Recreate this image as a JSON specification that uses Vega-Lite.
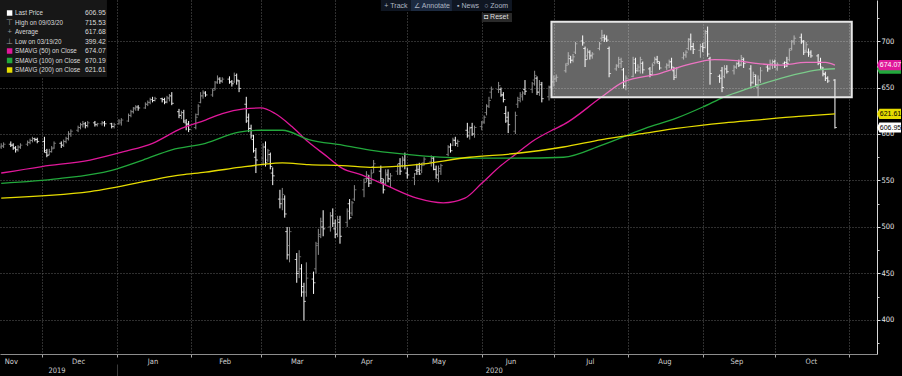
{
"$schema":"https://vega.github.io/schema/vega-lite/v6.json",
"width":877,"height":354,
"autosize":{"type":"none"},
"padding":{"left":0,"top":0,"right":25,"bottom":22},
"background":"#000000",
"config":{"view":{"stroke":null},"axis":{"labelFont":"Liberation Sans Narrow, Arial Narrow, DejaVu Sans Condensed, Liberation Sans, sans-serif"},"text":{"font":"Liberation Sans, Arial, sans-serif"}},
"datasets":{
"bars":[
{"d":"2019-11-14","o":586,"h":590,"l":584,"c":587},
{"d":"2019-11-15","o":587,"h":591,"l":585,"c":589},
{"d":"2019-11-18","o":589,"h":592,"l":586,"c":588},
{"d":"2019-11-19","o":588,"h":590,"l":583,"c":585},
{"d":"2019-11-20","o":585,"h":587,"l":580,"c":583},
{"d":"2019-11-21","o":583,"h":588,"l":581,"c":586},
{"d":"2019-11-22","o":586,"h":590,"l":584,"c":588},
{"d":"2019-11-25","o":589,"h":593,"l":587,"c":591},
{"d":"2019-11-26","o":591,"h":595,"l":589,"c":593},
{"d":"2019-11-27","o":593,"h":597,"l":591,"c":595},
{"d":"2019-11-28","o":595,"h":596,"l":592,"c":594},
{"d":"2019-11-29","o":594,"h":596,"l":590,"c":592},
{"d":"2019-12-02","o":592,"h":597,"l":580,"c":582},
{"d":"2019-12-03","o":580,"h":584,"l":575,"c":577},
{"d":"2019-12-04","o":578,"h":584,"l":577,"c":581},
{"d":"2019-12-05","o":581,"h":587,"l":580,"c":584},
{"d":"2019-12-06","o":585,"h":592,"l":584,"c":590},
{"d":"2019-12-09","o":590,"h":592,"l":585,"c":588},
{"d":"2019-12-10","o":588,"h":594,"l":586,"c":592},
{"d":"2019-12-11","o":592,"h":597,"l":590,"c":595},
{"d":"2019-12-12","o":595,"h":603,"l":593,"c":600},
{"d":"2019-12-13","o":600,"h":605,"l":597,"c":603},
{"d":"2019-12-16","o":604,"h":609,"l":602,"c":607},
{"d":"2019-12-17","o":607,"h":612,"l":605,"c":610},
{"d":"2019-12-18","o":610,"h":614,"l":607,"c":611},
{"d":"2019-12-19","o":611,"h":613,"l":606,"c":609},
{"d":"2019-12-20","o":609,"h":614,"l":607,"c":612},
{"d":"2019-12-23","o":612,"h":614,"l":608,"c":610},
{"d":"2019-12-24","o":610,"h":612,"l":608,"c":611},
{"d":"2019-12-26","o":611,"h":614,"l":609,"c":612},
{"d":"2019-12-27","o":612,"h":614,"l":608,"c":611},
{"d":"2019-12-30","o":611,"h":612,"l":606,"c":608},
{"d":"2019-12-31","o":608,"h":612,"l":606,"c":610},
{"d":"2020-01-02","o":611,"h":616,"l":610,"c":614},
{"d":"2020-01-03","o":612,"h":617,"l":609,"c":615},
{"d":"2020-01-06","o":614,"h":622,"l":613,"c":620},
{"d":"2020-01-07","o":620,"h":626,"l":618,"c":624},
{"d":"2020-01-08","o":624,"h":629,"l":622,"c":627},
{"d":"2020-01-09","o":628,"h":631,"l":625,"c":629},
{"d":"2020-01-10","o":629,"h":631,"l":625,"c":628},
{"d":"2020-01-13","o":628,"h":634,"l":627,"c":632},
{"d":"2020-01-14","o":632,"h":636,"l":630,"c":634},
{"d":"2020-01-15","o":634,"h":639,"l":632,"c":637},
{"d":"2020-01-16","o":637,"h":640,"l":634,"c":636},
{"d":"2020-01-17","o":636,"h":640,"l":635,"c":638},
{"d":"2020-01-20","o":638,"h":639,"l":634,"c":637},
{"d":"2020-01-21","o":637,"h":639,"l":632,"c":634},
{"d":"2020-01-22","o":635,"h":641,"l":633,"c":639},
{"d":"2020-01-23","o":638,"h":643,"l":635,"c":641},
{"d":"2020-01-24","o":641,"h":645,"l":631,"c":633},
{"d":"2020-01-27","o":624,"h":627,"l":617,"c":620},
{"d":"2020-01-28","o":620,"h":625,"l":616,"c":623},
{"d":"2020-01-29","o":623,"h":626,"l":612,"c":614},
{"d":"2020-01-30","o":612,"h":616,"l":604,"c":610},
{"d":"2020-01-31","o":611,"h":614,"l":602,"c":605},
{"d":"2020-02-03","o":607,"h":622,"l":605,"c":618},
{"d":"2020-02-04","o":621,"h":632,"l":620,"c":630},
{"d":"2020-02-05","o":634,"h":645,"l":633,"c":641},
{"d":"2020-02-06","o":641,"h":647,"l":638,"c":645},
{"d":"2020-02-07","o":644,"h":646,"l":640,"c":642},
{"d":"2020-02-10","o":642,"h":649,"l":640,"c":647},
{"d":"2020-02-11","o":649,"h":657,"l":647,"c":655},
{"d":"2020-02-12","o":656,"h":663,"l":654,"c":660},
{"d":"2020-02-13","o":659,"h":661,"l":654,"c":657},
{"d":"2020-02-14","o":657,"h":661,"l":655,"c":659},
{"d":"2020-02-17","o":659,"h":662,"l":654,"c":656},
{"d":"2020-02-18","o":656,"h":658,"l":651,"c":654},
{"d":"2020-02-19","o":656,"h":666,"l":655,"c":663},
{"d":"2020-02-20","o":663,"h":665,"l":653,"c":658},
{"d":"2020-02-21","o":657,"h":658,"l":645,"c":649},
{"d":"2020-02-24","o":632,"h":640,"l":612,"c":614},
{"d":"2020-02-25","o":618,"h":622,"l":602,"c":606},
{"d":"2020-02-26","o":606,"h":610,"l":595,"c":598},
{"d":"2020-02-27","o":594,"h":599,"l":580,"c":582},
{"d":"2020-02-28","o":575,"h":585,"l":558,"c":572},
{"d":"2020-03-02","o":574,"h":590,"l":566,"c":586},
{"d":"2020-03-03","o":586,"h":592,"l":565,"c":569},
{"d":"2020-03-04","o":572,"h":584,"l":570,"c":582},
{"d":"2020-03-05","o":578,"h":580,"l":562,"c":565},
{"d":"2020-03-06","o":558,"h":564,"l":545,"c":555},
{"d":"2020-03-09","o":530,"h":540,"l":520,"c":525},
{"d":"2020-03-10","o":530,"h":542,"l":518,"c":535},
{"d":"2020-03-11","o":530,"h":534,"l":510,"c":514},
{"d":"2020-03-12","o":495,"h":500,"l":465,"c":470},
{"d":"2020-03-13","o":480,"h":500,"l":462,"c":495},
{"d":"2020-03-16","o":465,"h":472,"l":440,"c":450},
{"d":"2020-03-17","o":452,"h":475,"l":445,"c":468},
{"d":"2020-03-18","o":455,"h":460,"l":425,"c":436},
{"d":"2020-03-19","o":430,"h":440,"l":399.42,"c":420},
{"d":"2020-03-20","o":430,"h":462,"l":425,"c":445},
{"d":"2020-03-23","o":444,"h":452,"l":428,"c":440},
{"d":"2020-03-24","o":455,"h":484,"l":450,"c":480},
{"d":"2020-03-25","o":482,"h":498,"l":470,"c":490},
{"d":"2020-03-26","o":492,"h":510,"l":488,"c":506},
{"d":"2020-03-27","o":500,"h":518,"l":490,"c":498},
{"d":"2020-03-30","o":500,"h":516,"l":495,"c":512},
{"d":"2020-03-31","o":512,"h":520,"l":500,"c":504},
{"d":"2020-04-01","o":498,"h":508,"l":488,"c":492},
{"d":"2020-04-02","o":493,"h":512,"l":489,"c":508},
{"d":"2020-04-03","o":505,"h":512,"l":482,"c":490},
{"d":"2020-04-06","o":505,"h":520,"l":500,"c":517},
{"d":"2020-04-07","o":525,"h":530,"l":508,"c":510},
{"d":"2020-04-08","o":515,"h":528,"l":512,"c":526},
{"d":"2020-04-09","o":530,"h":545,"l":528,"c":540},
{"d":"2020-04-13","o":540,"h":552,"l":532,"c":548},
{"d":"2020-04-14","o":552,"h":560,"l":548,"c":556},
{"d":"2020-04-15","o":552,"h":556,"l":543,"c":547},
{"d":"2020-04-16","o":550,"h":562,"l":546,"c":558},
{"d":"2020-04-17","o":565,"h":572,"l":558,"c":568},
{"d":"2020-04-20","o":560,"h":566,"l":548,"c":552},
{"d":"2020-04-21","o":548,"h":552,"l":536,"c":540},
{"d":"2020-04-22","o":547,"h":562,"l":545,"c":558},
{"d":"2020-04-23","o":556,"h":562,"l":548,"c":552},
{"d":"2020-04-24","o":551,"h":558,"l":542,"c":555},
{"d":"2020-04-27","o":560,"h":568,"l":556,"c":565},
{"d":"2020-04-28","o":568,"h":574,"l":556,"c":560},
{"d":"2020-04-29","o":566,"h":576,"l":564,"c":574},
{"d":"2020-04-30","o":572,"h":580,"l":562,"c":566},
{"d":"2020-05-01","o":558,"h":564,"l":552,"c":556},
{"d":"2020-05-04","o":553,"h":558,"l":545,"c":557},
{"d":"2020-05-05","o":561,"h":568,"l":556,"c":560},
{"d":"2020-05-06","o":562,"h":569,"l":556,"c":557},
{"d":"2020-05-07","o":561,"h":569,"l":558,"c":566},
{"d":"2020-05-08","o":569,"h":575,"l":566,"c":573},
{"d":"2020-05-11","o":570,"h":577,"l":565,"c":574},
{"d":"2020-05-12","o":574,"h":576,"l":561,"c":562},
{"d":"2020-05-13","o":562,"h":566,"l":552,"c":556},
{"d":"2020-05-14","o":552,"h":566,"l":548,"c":563},
{"d":"2020-05-15","o":560,"h":568,"l":556,"c":566},
{"d":"2020-05-18","o":578,"h":588,"l":576,"c":586},
{"d":"2020-05-19","o":586,"h":590,"l":580,"c":582},
{"d":"2020-05-20","o":588,"h":596,"l":587,"c":594},
{"d":"2020-05-21","o":593,"h":597,"l":587,"c":590},
{"d":"2020-05-22","o":590,"h":594,"l":586,"c":592},
{"d":"2020-05-26","o":604,"h":612,"l":596,"c":598},
{"d":"2020-05-27","o":602,"h":608,"l":594,"c":606},
{"d":"2020-05-28","o":607,"h":612,"l":598,"c":600},
{"d":"2020-05-29","o":600,"h":609,"l":596,"c":607},
{"d":"2020-06-01","o":608,"h":614,"l":604,"c":612},
{"d":"2020-06-02","o":613,"h":620,"l":611,"c":618},
{"d":"2020-06-03","o":623,"h":632,"l":620,"c":630},
{"d":"2020-06-04","o":630,"h":640,"l":628,"c":636},
{"d":"2020-06-05","o":645,"h":651,"l":638,"c":648},
{"d":"2020-06-08","o":648,"h":656,"l":644,"c":652},
{"d":"2020-06-09","o":648,"h":650,"l":640,"c":642},
{"d":"2020-06-10","o":642,"h":645,"l":634,"c":637},
{"d":"2020-06-11","o":622,"h":630,"l":612,"c":614},
{"d":"2020-06-12","o":618,"h":624,"l":601,"c":610},
{"d":"2020-06-15","o":603,"h":624,"l":600,"c":620},
{"d":"2020-06-16","o":632,"h":640,"l":628,"c":636},
{"d":"2020-06-17","o":638,"h":645,"l":634,"c":642},
{"d":"2020-06-18","o":640,"h":646,"l":636,"c":644},
{"d":"2020-06-19","o":648,"h":658,"l":642,"c":646},
{"d":"2020-06-22","o":648,"h":656,"l":644,"c":654},
{"d":"2020-06-23","o":658,"h":668,"l":652,"c":663},
{"d":"2020-06-24","o":660,"h":662,"l":642,"c":645},
{"d":"2020-06-25","o":645,"h":658,"l":641,"c":655},
{"d":"2020-06-26","o":653,"h":656,"l":634,"c":638},
{"d":"2020-06-29","o":640,"h":652,"l":636,"c":650},
{"d":"2020-06-30","o":651,"h":658,"l":647,"c":656},
{"d":"2020-07-01","o":656,"h":663,"l":651,"c":659},
{"d":"2020-07-02","o":660,"h":664,"l":656,"c":661},
{"d":"2020-07-06","o":668,"h":676,"l":666,"c":674},
{"d":"2020-07-07","o":676,"h":688,"l":674,"c":684},
{"d":"2020-07-08","o":681,"h":684,"l":676,"c":679},
{"d":"2020-07-09","o":680,"h":686,"l":677,"c":683},
{"d":"2020-07-10","o":688,"h":699,"l":686,"c":697},
{"d":"2020-07-13","o":700,"h":706,"l":695,"c":698},
{"d":"2020-07-14","o":692,"h":694,"l":672,"c":680},
{"d":"2020-07-15","o":684,"h":692,"l":680,"c":689},
{"d":"2020-07-16","o":688,"h":690,"l":680,"c":684},
{"d":"2020-07-17","o":685,"h":688,"l":681,"c":686},
{"d":"2020-07-20","o":692,"h":699,"l":690,"c":697},
{"d":"2020-07-21","o":703,"h":712,"l":700,"c":706},
{"d":"2020-07-22","o":704,"h":707,"l":699,"c":702},
{"d":"2020-07-23","o":703,"h":706,"l":699,"c":701},
{"d":"2020-07-24","o":692,"h":694,"l":661,"c":665},
{"d":"2020-07-27","o":670,"h":675,"l":668,"c":673},
{"d":"2020-07-28","o":674,"h":683,"l":671,"c":680},
{"d":"2020-07-29","o":676,"h":682,"l":671,"c":678},
{"d":"2020-07-30","o":669,"h":671,"l":649,"c":652},
{"d":"2020-07-31","o":656,"h":663,"l":647,"c":660},
{"d":"2020-08-03","o":662,"h":683,"l":661,"c":680},
{"d":"2020-08-04","o":676,"h":682,"l":665,"c":668},
{"d":"2020-08-05","o":670,"h":675,"l":667,"c":672},
{"d":"2020-08-06","o":668,"h":683,"l":665,"c":680},
{"d":"2020-08-07","o":676,"h":678,"l":665,"c":669},
{"d":"2020-08-10","o":670,"h":672,"l":661,"c":664},
{"d":"2020-08-11","o":667,"h":676,"l":663,"c":674},
{"d":"2020-08-12","o":677,"h":683,"l":675,"c":681},
{"d":"2020-08-13","o":680,"h":684,"l":676,"c":678},
{"d":"2020-08-14","o":676,"h":678,"l":669,"c":671},
{"d":"2020-08-17","o":672,"h":676,"l":669,"c":674},
{"d":"2020-08-18","o":674,"h":680,"l":671,"c":677},
{"d":"2020-08-19","o":678,"h":682,"l":670,"c":672},
{"d":"2020-08-20","o":668,"h":672,"l":658,"c":661},
{"d":"2020-08-21","o":663,"h":672,"l":660,"c":670},
{"d":"2020-08-24","o":682,"h":688,"l":680,"c":685},
{"d":"2020-08-25","o":685,"h":690,"l":682,"c":688},
{"d":"2020-08-26","o":692,"h":703,"l":690,"c":700},
{"d":"2020-08-27","o":702,"h":708,"l":690,"c":694},
{"d":"2020-08-28","o":694,"h":698,"l":686,"c":691},
{"d":"2020-08-31","o":690,"h":697,"l":682,"c":694},
{"d":"2020-09-01","o":694,"h":698,"l":688,"c":693},
{"d":"2020-09-02","o":698,"h":712,"l":692,"c":708},
{"d":"2020-09-03","o":710,"h":715.53,"l":683,"c":686},
{"d":"2020-09-04","o":681,"h":683,"l":653,"c":665},
{"d":"2020-09-08","o":662,"h":664,"l":655,"c":660},
{"d":"2020-09-09","o":668,"h":672,"l":645,"c":650},
{"d":"2020-09-10","o":662,"h":674,"l":660,"c":670},
{"d":"2020-09-11","o":670,"h":674,"l":665,"c":667},
{"d":"2020-09-14","o":668,"h":674,"l":664,"c":672},
{"d":"2020-09-15","o":672,"h":677,"l":670,"c":675},
{"d":"2020-09-16","o":676,"h":680,"l":672,"c":674},
{"d":"2020-09-17","o":675,"h":685,"l":673,"c":682},
{"d":"2020-09-18","o":680,"h":682,"l":671,"c":676},
{"d":"2020-09-21","o":670,"h":674,"l":651,"c":655},
{"d":"2020-09-22","o":656,"h":667,"l":654,"c":664},
{"d":"2020-09-23","o":662,"h":664,"l":651,"c":653},
{"d":"2020-09-24","o":650,"h":663,"l":640,"c":658},
{"d":"2020-09-25","o":658,"h":672,"l":655,"c":668},
{"d":"2020-09-28","o":672,"h":675,"l":667,"c":670},
{"d":"2020-09-29","o":671,"h":680,"l":669,"c":676},
{"d":"2020-09-30","o":674,"h":680,"l":670,"c":677},
{"d":"2020-10-01","o":678,"h":680,"l":671,"c":674},
{"d":"2020-10-02","o":670,"h":677,"l":668,"c":675},
{"d":"2020-10-05","o":676,"h":678,"l":671,"c":673},
{"d":"2020-10-06","o":677,"h":683,"l":672,"c":676},
{"d":"2020-10-07","o":680,"h":692,"l":678,"c":690},
{"d":"2020-10-08","o":692,"h":701,"l":690,"c":699},
{"d":"2020-10-09","o":700,"h":706,"l":696,"c":703},
{"d":"2020-10-12","o":704,"h":708,"l":697,"c":700},
{"d":"2020-10-13","o":699,"h":701,"l":685,"c":688},
{"d":"2020-10-14","o":690,"h":699,"l":688,"c":696},
{"d":"2020-10-15","o":688,"h":692,"l":683,"c":686},
{"d":"2020-10-16","o":688,"h":690,"l":682,"c":684},
{"d":"2020-10-19","o":684,"h":686,"l":674,"c":676},
{"d":"2020-10-20","o":678,"h":682,"l":670,"c":672},
{"d":"2020-10-21","o":670,"h":672,"l":662,"c":665},
{"d":"2020-10-22","o":664,"h":667,"l":657,"c":660},
{"d":"2020-10-23","o":660,"h":662,"l":655,"c":657},
{"d":"2020-10-26","o":658,"h":659,"l":605.8,"c":606.95}
],
"ma":[
{"s":"SMAVG (50)  on Close","d":"2019-11-14","v":558},
{"s":"SMAVG (50)  on Close","d":"2019-12-01","v":565},
{"s":"SMAVG (50)  on Close","d":"2019-12-21","v":572},
{"s":"SMAVG (50)  on Close","d":"2020-01-04","v":581},
{"s":"SMAVG (50)  on Close","d":"2020-01-16","v":590},
{"s":"SMAVG (50)  on Close","d":"2020-01-28","v":606},
{"s":"SMAVG (50)  on Close","d":"2020-02-07","v":615},
{"s":"SMAVG (50)  on Close","d":"2020-02-14","v":622},
{"s":"SMAVG (50)  on Close","d":"2020-02-23","v":627},
{"s":"SMAVG (50)  on Close","d":"2020-03-01","v":628},
{"s":"SMAVG (50)  on Close","d":"2020-03-07","v":622},
{"s":"SMAVG (50)  on Close","d":"2020-03-14","v":608},
{"s":"SMAVG (50)  on Close","d":"2020-03-21","v":591},
{"s":"SMAVG (50)  on Close","d":"2020-03-28","v":577},
{"s":"SMAVG (50)  on Close","d":"2020-04-04","v":563},
{"s":"SMAVG (50)  on Close","d":"2020-04-12","v":556},
{"s":"SMAVG (50)  on Close","d":"2020-04-22","v":545},
{"s":"SMAVG (50)  on Close","d":"2020-05-05","v":531},
{"s":"SMAVG (50)  on Close","d":"2020-05-16","v":526},
{"s":"SMAVG (50)  on Close","d":"2020-05-25","v":531},
{"s":"SMAVG (50)  on Close","d":"2020-06-01","v":547},
{"s":"SMAVG (50)  on Close","d":"2020-06-09","v":566},
{"s":"SMAVG (50)  on Close","d":"2020-06-15","v":578},
{"s":"SMAVG (50)  on Close","d":"2020-06-22","v":592},
{"s":"SMAVG (50)  on Close","d":"2020-07-01","v":605},
{"s":"SMAVG (50)  on Close","d":"2020-07-05","v":610},
{"s":"SMAVG (50)  on Close","d":"2020-07-21","v":640},
{"s":"SMAVG (50)  on Close","d":"2020-07-30","v":656},
{"s":"SMAVG (50)  on Close","d":"2020-08-14","v":665},
{"s":"SMAVG (50)  on Close","d":"2020-08-25","v":674},
{"s":"SMAVG (50)  on Close","d":"2020-09-06","v":680},
{"s":"SMAVG (50)  on Close","d":"2020-09-15","v":679},
{"s":"SMAVG (50)  on Close","d":"2020-09-23","v":676},
{"s":"SMAVG (50)  on Close","d":"2020-10-03","v":674},
{"s":"SMAVG (50)  on Close","d":"2020-10-14","v":677},
{"s":"SMAVG (50)  on Close","d":"2020-10-22","v":677},
{"s":"SMAVG (50)  on Close","d":"2020-10-26","v":674.07},
{"s":"SMAVG (100)  on Close","d":"2019-11-14","v":547},
{"s":"SMAVG (100)  on Close","d":"2019-12-08","v":552},
{"s":"SMAVG (100)  on Close","d":"2019-12-30","v":561},
{"s":"SMAVG (100)  on Close","d":"2020-01-12","v":572},
{"s":"SMAVG (100)  on Close","d":"2020-01-24","v":583},
{"s":"SMAVG (100)  on Close","d":"2020-02-07","v":590},
{"s":"SMAVG (100)  on Close","d":"2020-02-21","v":602},
{"s":"SMAVG (100)  on Close","d":"2020-03-01","v":604},
{"s":"SMAVG (100)  on Close","d":"2020-03-10","v":604},
{"s":"SMAVG (100)  on Close","d":"2020-03-21","v":594},
{"s":"SMAVG (100)  on Close","d":"2020-04-04","v":588},
{"s":"SMAVG (100)  on Close","d":"2020-04-17","v":582},
{"s":"SMAVG (100)  on Close","d":"2020-05-05","v":577},
{"s":"SMAVG (100)  on Close","d":"2020-05-27","v":574},
{"s":"SMAVG (100)  on Close","d":"2020-06-15","v":574},
{"s":"SMAVG (100)  on Close","d":"2020-07-05","v":575},
{"s":"SMAVG (100)  on Close","d":"2020-07-21","v":588},
{"s":"SMAVG (100)  on Close","d":"2020-08-08","v":606},
{"s":"SMAVG (100)  on Close","d":"2020-08-21","v":617},
{"s":"SMAVG (100)  on Close","d":"2020-09-01","v":629},
{"s":"SMAVG (100)  on Close","d":"2020-09-10","v":640},
{"s":"SMAVG (100)  on Close","d":"2020-09-20","v":649},
{"s":"SMAVG (100)  on Close","d":"2020-10-01","v":658},
{"s":"SMAVG (100)  on Close","d":"2020-10-11","v":665},
{"s":"SMAVG (100)  on Close","d":"2020-10-19","v":669},
{"s":"SMAVG (100)  on Close","d":"2020-10-26","v":670.19},
{"s":"SMAVG (200)  on Close","d":"2019-11-14","v":531},
{"s":"SMAVG (200)  on Close","d":"2019-12-21","v":538},
{"s":"SMAVG (200)  on Close","d":"2020-01-28","v":556},
{"s":"SMAVG (200)  on Close","d":"2020-02-07","v":559},
{"s":"SMAVG (200)  on Close","d":"2020-02-21","v":564},
{"s":"SMAVG (200)  on Close","d":"2020-03-01","v":567},
{"s":"SMAVG (200)  on Close","d":"2020-03-10","v":569},
{"s":"SMAVG (200)  on Close","d":"2020-03-21","v":567},
{"s":"SMAVG (200)  on Close","d":"2020-04-04","v":566},
{"s":"SMAVG (200)  on Close","d":"2020-04-17","v":564},
{"s":"SMAVG (200)  on Close","d":"2020-05-05","v":567},
{"s":"SMAVG (200)  on Close","d":"2020-05-27","v":575},
{"s":"SMAVG (200)  on Close","d":"2020-06-15","v":579},
{"s":"SMAVG (200)  on Close","d":"2020-07-05","v":586},
{"s":"SMAVG (200)  on Close","d":"2020-07-21","v":594},
{"s":"SMAVG (200)  on Close","d":"2020-08-08","v":601},
{"s":"SMAVG (200)  on Close","d":"2020-08-21","v":606},
{"s":"SMAVG (200)  on Close","d":"2020-09-10","v":612},
{"s":"SMAVG (200)  on Close","d":"2020-09-23","v":615},
{"s":"SMAVG (200)  on Close","d":"2020-10-11","v":619},
{"s":"SMAVG (200)  on Close","d":"2020-10-26","v":621.61}
],
"legend":[
{"name":"Last Price","v":606.95},
{"name":"High on 09/03/20","v":715.53},
{"name":"Average","v":617.68},
{"name":"Low on 03/19/20","v":399.42},
{"name":"SMAVG (50)  on Close","v":674.07},
{"name":"SMAVG (100)  on Close","v":670.19},
{"name":"SMAVG (200)  on Close","v":621.61}
]
},
"layer":[
{
"layer":[
{"data":{"name":"bars"},"mark":{"type":"rule","strokeWidth":1},
 "encoding":{
  "x":{"field":"d","type":"temporal","scale":{"type":"utc","nice":false,"domain":[{"year":2019,"month":11,"date":13,"hours":12,"utc":true},{"year":2020,"month":11,"date":12,"hours":12,"utc":true}]},
   "axis":{"orient":"bottom","title":null,"values":[{"year":2019,"month":12,"date":1,"utc":true},{"year":2020,"month":1,"date":1,"utc":true},{"year":2020,"month":2,"date":1,"utc":true},{"year":2020,"month":3,"date":1,"utc":true},{"year":2020,"month":4,"date":1,"utc":true},{"year":2020,"month":5,"date":1,"utc":true},{"year":2020,"month":6,"date":1,"utc":true},{"year":2020,"month":7,"date":1,"utc":true},{"year":2020,"month":8,"date":1,"utc":true},{"year":2020,"month":9,"date":1,"utc":true},{"year":2020,"month":10,"date":1,"utc":true},{"year":2020,"month":11,"date":1,"utc":true}],
    "grid":true,"gridColor":"#5e5e5e","gridDash":[1,2],"gridOpacity":1,"ticks":true,"tickSize":3,"tickColor":"#a8a8a8","domain":true,"domainColor":"#8c8c8c","labels":false}},
  "y":{"field":"l","type":"quantitative","scale":{"domain":[363.4,744.1],"nice":false,"zero":false},
   "axis":{"orient":"right","title":null,"values":[400,450,500,550,600,650,700],"grid":true,"gridColor":"#5e5e5e","gridDash":[1,2],"gridOpacity":1,"ticks":true,"tickSize":3,"tickColor":"#e0e0e0","domain":true,"domainColor":"#d8d8d8","labelColor":"#e8e8e8","labelFontSize":7.5,"labelPadding":1,"labelOverlap":false,"labelFlush":false}},
  "y2":{"field":"h"},
  "color":{"condition":{"test":"datum.c < datum.o","value":"#ffffff"},"value":"#8c8c8c"}}},
{"data":{"name":"bars"},"mark":{"type":"tick","orient":"horizontal","size":2,"thickness":1,"xOffset":-1},
 "encoding":{
  "x":{"field":"d","type":"temporal","scale":{"type":"utc","nice":false,"domain":[{"year":2019,"month":11,"date":13,"hours":12,"utc":true},{"year":2020,"month":11,"date":12,"hours":12,"utc":true}]},
   "axis":{"orient":"bottom","title":null,"values":[{"year":2019,"month":11,"date":18,"utc":true},{"year":2019,"month":12,"date":16,"utc":true},{"year":2020,"month":1,"date":16,"utc":true},{"year":2020,"month":2,"date":15,"utc":true},{"year":2020,"month":3,"date":16,"utc":true},{"year":2020,"month":4,"date":14,"utc":true},{"year":2020,"month":5,"date":14,"utc":true},{"year":2020,"month":6,"date":13,"utc":true},{"year":2020,"month":7,"date":16,"utc":true},{"year":2020,"month":8,"date":16,"utc":true},{"year":2020,"month":9,"date":15,"utc":true},{"year":2020,"month":10,"date":16,"utc":true}],
    "format":"%b","ticks":false,"domain":false,"grid":false,"labelColor":"#d0d0d0","labelFontSize":7.5,"labelPadding":3,"labelFlush":false,"labelOverlap":false}},
  "y":{"field":"o","type":"quantitative","scale":{"domain":[363.4,744.1],"nice":false,"zero":false},
   "axis":{"orient":"right","title":null,"values":[375,425,475,525,575,625,675,725],"ticks":true,"tickSize":2,"tickColor":"#cccccc","labels":false,"domain":false,"grid":false}},
  "color":{"condition":{"test":"datum.c < datum.o","value":"#ffffff"},"value":"#8c8c8c"}}},
{"data":{"name":"bars"},"mark":{"type":"tick","orient":"horizontal","size":2,"thickness":1,"xOffset":1},
 "encoding":{
  "x":{"field":"d","type":"temporal","scale":{"type":"utc","nice":false,"domain":[{"year":2019,"month":11,"date":13,"hours":12,"utc":true},{"year":2020,"month":11,"date":12,"hours":12,"utc":true}]},
   "axis":{"orient":"bottom","title":null,"values":[{"year":2019,"month":12,"date":7,"utc":true},{"year":2020,"month":6,"date":6,"utc":true}],"format":"%Y","ticks":false,"domain":false,"grid":false,"labelColor":"#d0d0d0","labelFontSize":7.5,"labelPadding":12,"labelFlush":false,"labelOverlap":false}},
  "y":{"field":"c","type":"quantitative","scale":{"domain":[363.4,744.1],"nice":false,"zero":false},"axis":null},
  "color":{"condition":{"test":"datum.c < datum.o","value":"#ffffff"},"value":"#8c8c8c"}}},
{"data":{"name":"ma"},"mark":{"type":"line","strokeWidth":1.3,"interpolate":"monotone"},
 "encoding":{
  "x":{"field":"d","type":"temporal","scale":{"type":"utc","nice":false,"domain":[{"year":2019,"month":11,"date":13,"hours":12,"utc":true},{"year":2020,"month":11,"date":12,"hours":12,"utc":true}]},
   "axis":{"orient":"bottom","title":null,"values":[{"year":2020,"month":1,"date":1,"utc":true}],"ticks":true,"tickSize":12,"tickColor":"#3a3a3a","labels":false,"domain":false,"grid":false,"offset":10}},
  "y":{"field":"v","type":"quantitative","scale":{"domain":[363.4,744.1],"nice":false,"zero":false},"axis":null},
  "color":{"field":"s","type":"nominal","legend":null,"scale":{"domain":["Last Price","High on 09/03/20","Average","Low on 03/19/20","SMAVG (50)  on Close","SMAVG (100)  on Close","SMAVG (200)  on Close"],"range":["#ffffff","#aaaaaa","#aaaaaa","#aaaaaa","#e0189a","#22a83c","#e6dc00"]}}}},
{"data":{"values":[{}]},"mark":{"type":"rect","fill":"#ffffff","fillOpacity":0.4,"stroke":"#e6e6e6","strokeWidth":2},
 "encoding":{
  "x":{"datum":{"year":2020,"month":6,"date":30,"utc":true},"type":"temporal","axis":null},
  "x2":{"datum":{"year":2020,"month":11,"date":2,"utc":true}},
  "y":{"datum":720.8,"type":"quantitative","axis":null},
  "y2":{"datum":639.5}}},
{"data":{"values":[{}]},"mark":{"type":"rect","fill":"#171717"},
 "encoding":{
  "x":{"datum":{"year":2019,"month":11,"date":13,"hours":12,"utc":true},"type":"temporal","axis":null},
  "x2":{"datum":{"year":2019,"month":12,"date":28,"utc":true}},
  "y":{"datum":744.1,"type":"quantitative","axis":null},
  "y2":{"datum":661.3}}},
{"data":{"values":[{}]},"mark":{"type":"rect","fill":"#0f1622"},
 "encoding":{
  "x":{"datum":{"year":2020,"month":4,"date":20,"utc":true},"type":"temporal","axis":null},
  "x2":{"datum":{"year":2020,"month":6,"date":13,"hours":14,"utc":true}},
  "y":{"datum":744.1,"type":"quantitative","axis":null},
  "y2":{"datum":732.3}}},
{"data":{"values":[{}]},"mark":{"type":"rect","fill":"#1c2a40"},
 "encoding":{
  "x":{"datum":{"year":2020,"month":5,"date":2,"hours":13,"utc":true},"type":"temporal","axis":null},
  "x2":{"datum":{"year":2020,"month":5,"date":19,"hours":14,"utc":true}},
  "y":{"datum":744.1,"type":"quantitative","axis":null},
  "y2":{"datum":732.3}}},
{"data":{"values":[{}]},"mark":{"type":"rect","fill":"#2a2a2a"},
 "encoding":{
  "x":{"datum":{"year":2020,"month":6,"date":1,"utc":true},"type":"temporal","axis":null},
  "x2":{"datum":{"year":2020,"month":6,"date":13,"hours":14,"utc":true}},
  "y":{"datum":730.1,"type":"quantitative","axis":null},
  "y2":{"datum":720.4}}},
{"data":{"values":[{}]},"mark":{"type":"text","fontSize":7,"color":"#aeb6c2","align":"center","baseline":"middle"},
 "encoding":{"x":{"datum":{"year":2020,"month":4,"date":26,"hours":7,"utc":true},"type":"temporal","axis":null},"y":{"datum":738,"type":"quantitative","axis":null},"text":{"value":"+ Track"}}},
{"data":{"values":[{}]},"mark":{"type":"text","fontSize":7,"color":"#aeb6c2","align":"center","baseline":"middle"},
 "encoding":{"x":{"datum":{"year":2020,"month":5,"date":11,"hours":7,"utc":true},"type":"temporal","axis":null},"y":{"datum":738,"type":"quantitative","axis":null},"text":{"value":"∠ Annotate"}}},
{"data":{"values":[{}]},"mark":{"type":"text","fontSize":7,"color":"#aeb6c2","align":"center","baseline":"middle"},
 "encoding":{"x":{"datum":{"year":2020,"month":5,"date":26,"hours":7,"utc":true},"type":"temporal","axis":null},"y":{"datum":738,"type":"quantitative","axis":null},"text":{"value":"▪ News"}}},
{"data":{"values":[{}]},"mark":{"type":"text","fontSize":7,"color":"#aeb6c2","align":"center","baseline":"middle"},
 "encoding":{"x":{"datum":{"year":2020,"month":6,"date":7,"utc":true},"type":"temporal","axis":null},"y":{"datum":738,"type":"quantitative","axis":null},"text":{"value":"○ Zoom"}}},
{"data":{"values":[{}]},"mark":{"type":"text","fontSize":7,"color":"#dddddd","align":"center","baseline":"middle"},
 "encoding":{"x":{"datum":{"year":2020,"month":6,"date":7,"utc":true},"type":"temporal","axis":null},"y":{"datum":725.3,"type":"quantitative","axis":null},"text":{"value":"◘ Reset"}}},
{"data":{"name":"legend"},"transform":[{"filter":{"field":"name","oneOf":["Last Price","SMAVG (50)  on Close","SMAVG (100)  on Close","SMAVG (200)  on Close"]}}],
 "mark":{"type":"point","shape":"M-1,0L-0.8,-0.42L1,-0.42L1,0.42L-0.8,0.42Z","size":576,"filled":true,"opacity":1},
 "encoding":{
  "x":{"datum":{"year":2020,"month":11,"date":17,"hours":12,"utc":true},"type":"temporal","axis":null},
  "y":{"field":"v","type":"quantitative","axis":null},
  "order":{"field":"v","type":"quantitative"},
  "color":{"field":"name","type":"nominal","legend":null}}},
{"data":{"name":"legend"},"transform":[{"filter":{"field":"name","oneOf":["Last Price","SMAVG (50)  on Close","SMAVG (200)  on Close"]}}],
 "mark":{"type":"text","fontSize":7,"align":"center","baseline":"middle","dx":1.5},
 "encoding":{
  "x":{"datum":{"year":2020,"month":11,"date":17,"hours":12,"utc":true},"type":"temporal","axis":null},
  "y":{"field":"v","type":"quantitative","axis":null},
  "text":{"field":"v","type":"quantitative","format":".2f"},
  "color":{"condition":{"test":"datum.v > 650","value":"#ffffff"},"value":"#000000"}}}
],
"resolve":{"axis":{"x":"independent","y":"independent"}}
},
{
"data":{"name":"legend"},
"encoding":{"y":{"field":"name","type":"nominal","axis":null,"scale":{"type":"point","domain":["Last Price","High on 09/03/20","Average","Low on 03/19/20","SMAVG (50)  on Close","SMAVG (100)  on Close","SMAVG (200)  on Close"],"range":[13,70],"padding":0}}},
"layer":[
{"transform":[{"filter":{"field":"name","oneOf":["Last Price","SMAVG (50)  on Close","SMAVG (100)  on Close","SMAVG (200)  on Close"]}}],
 "mark":{"type":"point","shape":"square","filled":true,"size":30,"opacity":1},
 "encoding":{"x":{"datum":{"year":2019,"month":11,"date":17,"hours":12,"utc":true},"type":"temporal","axis":null},"color":{"field":"name","type":"nominal","legend":null}}},
{"transform":[{"filter":{"field":"name","oneOf":["High on 09/03/20","Average","Low on 03/19/20"]}}],
 "mark":{"type":"text","fontSize":7.5,"color":"#9a9a9a","align":"center","baseline":"middle"},
 "encoding":{"x":{"datum":{"year":2019,"month":11,"date":17,"hours":12,"utc":true},"type":"temporal","axis":null},
  "text":{"condition":[{"test":"datum.name === 'Average'","value":"+"},{"test":"datum.name === 'High on 09/03/20'","value":"⊤"}],"value":"⊥"}}},
{"mark":{"type":"text","fontSize":6.3,"color":"#dadada","align":"left","baseline":"middle"},
 "encoding":{"x":{"datum":{"year":2019,"month":11,"date":19,"hours":18,"utc":true},"type":"temporal","axis":null},"text":{"field":"name","type":"nominal"}}},
{"mark":{"type":"text","fontSize":6.8,"color":"#dadada","align":"right","baseline":"middle"},
 "encoding":{"x":{"datum":{"year":2019,"month":12,"date":27,"hours":12,"utc":true},"type":"temporal","axis":null},"text":{"field":"v","type":"quantitative","format":".2f"}}}
]
}
],
"resolve":{"scale":{"y":"independent"}}
}
